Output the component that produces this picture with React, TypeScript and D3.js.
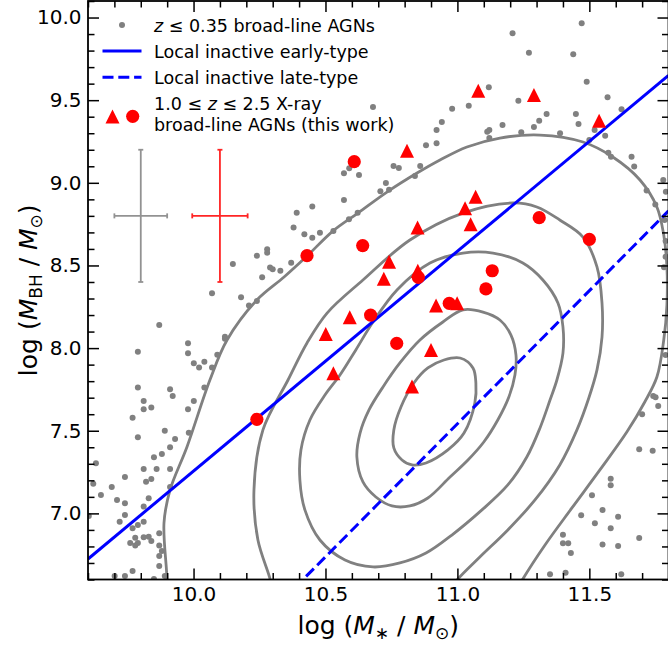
import React, { useEffect, useRef } from 'react';
import * as d3 from 'd3';

type Pt = [number, number];

// z <= 0.35 broad-line AGNs: [log M*, log MBH]
const localAGN: Pt[] = [
  [9.789, 7.761], [9.911, 7.751], [9.921, 7.71], [10.041, 7.761], [9.811, 7.68], [9.811, 7.63],
  [9.84, 7.64], [10.001, 7.68], [9.979, 7.63], [9.769, 7.579], [9.891, 7.5], [9.789, 7.461],
  [9.982, 7.488], [9.93, 7.45], [9.911, 7.4], [9.88, 7.36], [9.85, 7.34], [9.63, 7.303],
  [9.811, 7.269], [9.86, 7.269], [9.911, 7.269], [9.74, 7.22], [9.84, 7.208], [9.82, 7.192],
  [9.62, 7.18], [9.69, 7.16], [9.911, 7.16], [9.649, 7.111], [9.83, 7.091], [9.71, 7.081],
  [9.74, 7.061], [9.811, 7.041], [9.603, 6.984], [9.74, 6.99], [9.72, 6.95], [9.811, 6.95],
  [9.789, 6.93], [9.769, 6.91], [9.87, 6.88], [9.779, 6.853], [9.811, 6.855], [9.83, 6.859],
  [9.84, 6.833], [9.76, 6.821], [9.789, 6.821], [9.779, 6.805], [9.87, 6.805], [9.88, 6.773],
  [9.87, 6.742], [9.87, 6.682], [9.769, 6.652], [9.701, 6.621], [9.74, 6.621], [9.85, 6.603],
  [9.891, 6.621],
  [10.379, 8.729], [10.42, 8.689], [10.24, 8.559], [10.279, 8.598], [10.279, 8.577], [10.149, 8.509],
  [10.29, 8.487], [10.3, 8.477], [10.329, 8.468], [10.37, 8.517], [10.26, 8.428], [10.07, 8.332],
  [10.18, 8.307], [10.21, 8.257], [10.24, 8.285], [9.87, 8.14], [10.119, 8.069], [10.119, 8.057],
  [9.979, 8.029], [9.789, 7.978], [9.979, 7.969], [10.09, 7.96], [10.001, 7.908], [10.041, 7.918],
  [10.021, 7.882], [10.07, 7.882],
  [10.59, 9.088], [10.57, 9.058], [10.627, 9.047], [10.57, 8.896], [10.391, 8.819], [10.45, 8.856],
  [10.622, 8.819], [10.589, 8.779], [10.45, 8.668], [10.479, 8.698], [10.53, 8.709],
  [10.68, 9.459], [10.98, 9.448], [11.043, 9.467], [11.119, 9.578], [10.941, 9.368], [10.921, 9.32],
  [10.881, 9.227], [10.921, 9.239], [11.113, 9.309], [11.121, 9.32], [11.121, 9.271], [10.758, 9.102],
  [10.778, 9.09], [10.859, 9.102], [10.839, 9.041], [10.729, 8.999], [10.708, 8.949], [10.741, 8.958],
  [11.49, 9.612], [11.569, 9.517], [11.231, 9.497], [11.338, 9.416], [11.31, 9.376], [11.29, 9.338],
  [11.171, 9.35], [11.242, 9.306], [11.389, 9.3], [11.449, 9.416], [11.459, 9.356], [11.52, 9.32],
  [11.56, 9.285], [11.622, 9.445], [11.572, 9.182], [11.582, 9.158], [11.66, 9.158], [11.67, 9.098],
  [11.78, 9.017], [11.717, 8.954], [11.75, 8.869], [11.79, 8.946], [11.471, 9.965], [11.209, 9.905],
  [11.271, 9.787], [11.439, 9.778], [11.5, 9.259], [11.785, 8.775],
  [11.789, 8.648], [11.789, 8.553], [11.783, 8.489], [11.789, 7.958],
  [11.742, 7.71], [11.751, 7.703], [11.761, 7.65], [11.7, 7.6], [11.689, 7.388], [11.74, 7.379],
  [11.581, 7.21], [11.581, 7.17], [11.51, 7.11], [11.469, 6.989], [11.55, 7.021], [11.609, 6.98],
  [11.521, 6.94], [11.581, 6.91], [11.4, 6.87], [11.4, 6.819], [11.42, 6.819], [11.43, 6.761],
  [11.55, 6.811], [11.609, 6.803], [11.689, 6.851], [11.351, 6.632], [11.41, 6.641], [11.621, 6.632],
];

// 1.0 <= z <= 2.5 X-ray broad-line AGNs (this work)
const agnTriangles: Pt[] = [
  [11.079, 9.557], [11.29, 9.531], [11.537, 9.376], [10.809, 9.194], [11.069, 8.916], [11.029, 8.846],
  [11.05, 8.749], [10.849, 8.729], [10.741, 8.523], [10.721, 8.42], [10.85, 8.468], [10.592, 8.187],
  [10.501, 8.085], [10.919, 8.257], [10.999, 8.271], [10.9, 7.989], [10.53, 7.848], [10.828, 7.767],
];
const agnCircles: Pt[] = [
  [10.609, 9.128], [10.43, 8.559], [10.641, 8.62], [10.671, 8.2], [10.77, 8.029], [10.969, 8.271],
  [11.31, 8.789], [11.5, 8.658], [11.132, 8.468], [11.108, 8.358], [10.852, 8.428], [10.24, 7.569],
];

// density contours of local inactive galaxies
const contour1: Pt[] = [
  [10.949, 7.928], [11.01, 7.94], [11.059, 7.88], [11.07, 7.789], [11.066, 7.668], [11.025, 7.486],
  [10.964, 7.384], [10.881, 7.305], [10.828, 7.293], [10.79, 7.323], [10.759, 7.396], [10.759, 7.505],
  [10.786, 7.644], [10.835, 7.789], [10.888, 7.88],
];
const contour2: Pt[] = [
  [11.021, 8.231], [11.097, 8.218], [11.161, 8.17], [11.203, 8.079], [11.222, 7.958], [11.218, 7.837],
  [11.195, 7.704], [11.153, 7.565], [11.1, 7.432], [11.04, 7.323], [10.972, 7.22], [10.888, 7.093],
  [10.82, 7.045], [10.752, 7.045], [10.691, 7.099], [10.642, 7.19], [10.619, 7.341], [10.631, 7.486],
  [10.665, 7.626], [10.718, 7.765], [10.782, 7.91], [10.858, 8.049], [10.945, 8.158],
];
const contour3: Pt[] = [
  [11.021, 8.575], [11.135, 8.575], [11.248, 8.515], [11.324, 8.412], [11.381, 8.273], [11.4, 8.128],
  [11.4, 7.97], [11.377, 7.807], [11.351, 7.686], [11.313, 7.517], [11.263, 7.341], [11.191, 7.172],
  [11.093, 7.021], [10.979, 6.869], [10.881, 6.76], [10.782, 6.7], [10.68, 6.676], [10.574, 6.718],
  [10.479, 6.839], [10.422, 7.021], [10.403, 7.202], [10.407, 7.384], [10.441, 7.565], [10.498, 7.716],
  [10.555, 7.837], [10.615, 7.989], [10.68, 8.158], [10.771, 8.352], [10.896, 8.515],
];
const contour4: Pt[] = [
  [10.297, 6.537], [10.29, 6.603], [10.244, 6.839], [10.229, 7.142], [10.263, 7.505], [10.358, 7.807],
  [10.43, 8.031], [10.506, 8.212], [10.642, 8.412], [10.82, 8.654], [11.021, 8.817], [11.21, 8.878],
  [11.301, 8.854], [11.388, 8.775], [11.476, 8.672], [11.529, 8.491], [11.548, 8.273], [11.548, 8.067],
  [11.529, 7.868], [11.498, 7.698], [11.453, 7.505], [11.388, 7.293], [11.294, 7.081], [11.191, 6.9],
  [11.085, 6.736], [11.002, 6.603], [10.972, 6.537],
];
const contour5: Pt[] = [
  [9.896, 6.537], [9.899, 6.603], [9.888, 6.942], [9.911, 7.142], [9.975, 7.402], [10.062, 7.807],
  [10.127, 8.049], [10.24, 8.291], [10.343, 8.43], [10.43, 8.557], [10.528, 8.708], [10.623, 8.817],
  [10.733, 8.944], [10.847, 9.059], [10.934, 9.138], [11.036, 9.217], [11.161, 9.271], [11.313, 9.289],
  [11.476, 9.247], [11.589, 9.156], [11.692, 9.017], [11.756, 8.854], [11.782, 8.684], [11.794, 8.491],
  [11.794, 8.261], [11.782, 8.049], [11.756, 7.825], [11.71, 7.674], [11.642, 7.492], [11.54, 7.263],
  [11.434, 7.033], [11.332, 6.809], [11.248, 6.603], [11.225, 6.537],
];

// local inactive scaling relations (end points)
const earlyType: Pt[] = [[9.6, 6.724], [11.8, 9.65]];
const lateType: Pt[] = [[10.3, 6.415], [11.8, 8.83]];

// typical uncertainties
const errLocal = { x: 9.8, y: 8.8, dx: 0.1, dy: 0.4 };
const errThisWork = { x: 10.1, y: 8.8, dx: 0.105, dy: 0.4 };

const xMajor = [10.0, 10.5, 11.0, 11.5];
const yMajor = [7.0, 7.5, 8.0, 8.5, 9.0, 9.5, 10.0];

const GRAY = '#808080';
const RED = '#ff0000';
const BLUE = '#0000ff';

const App = () => {
  const ref = useRef<SVGSVGElement>(null);

  useEffect(() => {
    document.body.style.margin = '0';
    const svg = d3.select(ref.current);
    svg.selectAll('*').remove();

    const left = 88, right = 668.5, top = 1, bottom = 579.5;
    const x = d3.scaleLinear().domain([9.6, 11.8]).range([left, right]);
    const y = d3.scaleLinear().domain([6.6, 10.1]).range([bottom, top]);
    const font = 'DejaVu Sans, sans-serif';

    const xMinor = d3.range(96, 119).map(d => d / 10).filter(v => !xMajor.some(m => Math.abs(m - v) < 1e-6));
    const yMinor = d3.range(66, 102).map(d => d / 10).filter(v => !yMajor.some(m => Math.abs(m - v) < 1e-6));

    svg.append('defs').append('clipPath').attr('id', 'plot-clip')
      .append('rect').attr('x', left).attr('y', top).attr('width', right - left).attr('height', bottom - top);

    const plot = svg.append('g').attr('clip-path', 'url(#plot-clip)');

    // local AGNs
    plot.selectAll('.local').data(localAGN).enter().append('circle')
      .attr('cx', d => x(d[0])).attr('cy', d => y(d[1])).attr('r', 3).attr('fill', GRAY);

    // contours
    const closed = d3.line<Pt>().x(d => x(d[0])).y(d => y(d[1])).curve(d3.curveCatmullRomClosed.alpha(0.5));
    const open = d3.line<Pt>().x(d => x(d[0])).y(d => y(d[1])).curve(d3.curveCatmullRom.alpha(0.5));
    [contour1, contour2, contour3].forEach(c => {
      plot.append('path').attr('d', closed(c)).attr('fill', 'none').attr('stroke', GRAY).attr('stroke-width', 2.8);
    });
    [contour4, contour5].forEach(c => {
      plot.append('path').attr('d', open(c)).attr('fill', 'none').attr('stroke', GRAY).attr('stroke-width', 2.8);
    });

    // relations
    const straight = d3.line<Pt>().x(d => x(d[0])).y(d => y(d[1]));
    plot.append('path').attr('d', straight(earlyType)).attr('stroke', BLUE).attr('stroke-width', 3).attr('fill', 'none');
    plot.append('path').attr('d', straight(lateType)).attr('stroke', BLUE).attr('stroke-width', 3)
      .attr('stroke-dasharray', '11,4.8').attr('fill', 'none');

    // error bars
    const errBar = (e: typeof errLocal, color: string) => {
      const g = svg.append('g').attr('stroke', color).attr('stroke-width', 1.8).attr('opacity', 0.85);
      const cx = x(e.x), cy = y(e.y);
      const x0 = x(e.x - e.dx), x1 = x(e.x + e.dx), y0 = y(e.y - e.dy), y1 = y(e.y + e.dy);
      g.append('line').attr('x1', x0).attr('x2', x1).attr('y1', cy).attr('y2', cy);
      g.append('line').attr('x1', cx).attr('x2', cx).attr('y1', y0).attr('y2', y1);
      g.append('line').attr('x1', x0).attr('x2', x0).attr('y1', cy - 2.5).attr('y2', cy + 2.5);
      g.append('line').attr('x1', x1).attr('x2', x1).attr('y1', cy - 2.5).attr('y2', cy + 2.5);
      g.append('line').attr('x1', cx - 2.5).attr('x2', cx + 2.5).attr('y1', y0).attr('y2', y0);
      g.append('line').attr('x1', cx - 2.5).attr('x2', cx + 2.5).attr('y1', y1).attr('y2', y1);
    };
    errBar(errLocal, GRAY);
    errBar(errThisWork, RED);

    // this work
    const tri = (cx: number, cy: number, s = 14) =>
      `M${cx},${cy - s / 2}L${cx - s / 2},${cy + s / 2}L${cx + s / 2},${cy + s / 2}Z`;
    plot.selectAll('.tri').data(agnTriangles).enter().append('path')
      .attr('d', d => tri(x(d[0]), y(d[1]))).attr('fill', RED);
    plot.selectAll('.circ').data(agnCircles).enter().append('circle')
      .attr('cx', d => x(d[0])).attr('cy', d => y(d[1])).attr('r', 6.6).attr('fill', RED);

    // axes
    const style = (g: any, labels: boolean) => {
      g.select('.domain').remove();
      g.selectAll('line').attr('stroke', '#000').attr('stroke-width', 1.5);
      if (labels) g.selectAll('text').attr('font-family', font).attr('font-size', 20).attr('fill', '#000');
    };
    const fmt = d3.format('.1f');
    svg.append('g').attr('transform', `translate(0,${bottom})`)
      .call(d3.axisBottom(x).tickValues(xMajor).tickSize(-11).tickPadding(7).tickFormat(d => fmt(d as number)))
      .call((g: any) => style(g, true));
    svg.append('g').attr('transform', `translate(0,${bottom})`)
      .call(d3.axisBottom(x).tickValues(xMinor).tickSize(-6.5).tickFormat(() => ''))
      .call((g: any) => style(g, false));
    svg.append('g').attr('transform', `translate(0,${top})`)
      .call(d3.axisTop(x).tickValues(xMajor).tickSize(-11).tickFormat(() => ''))
      .call((g: any) => style(g, false));
    svg.append('g').attr('transform', `translate(0,${top})`)
      .call(d3.axisTop(x).tickValues(xMinor).tickSize(-6.5).tickFormat(() => ''))
      .call((g: any) => style(g, false));
    svg.append('g').attr('transform', `translate(${left},0)`)
      .call(d3.axisLeft(y).tickValues(yMajor).tickSize(-11).tickPadding(6.5).tickFormat(d => fmt(d as number)))
      .call((g: any) => style(g, true));
    svg.append('g').attr('transform', `translate(${left},0)`)
      .call(d3.axisLeft(y).tickValues(yMinor).tickSize(-6.5).tickFormat(() => ''))
      .call((g: any) => style(g, false));
    svg.append('g').attr('transform', `translate(${right},0)`)
      .call(d3.axisRight(y).tickValues(yMajor).tickSize(-11).tickFormat(() => ''))
      .call((g: any) => style(g, false));
    svg.append('g').attr('transform', `translate(${right},0)`)
      .call(d3.axisRight(y).tickValues(yMinor).tickSize(-6.5).tickFormat(() => ''))
      .call((g: any) => style(g, false));

    svg.append('rect').attr('x', left).attr('y', top).attr('width', right - left).attr('height', bottom - top)
      .attr('fill', 'none').attr('stroke', '#000').attr('stroke-width', 1.8);

    // axis labels
    const xl = svg.append('text').attr('x', (left + right) / 2).attr('y', 634).attr('text-anchor', 'middle')
      .attr('font-family', font).attr('font-size', 25).attr('fill', '#000');
    xl.append('tspan').text('log (');
    xl.append('tspan').attr('font-style', 'italic').text('M');
    xl.append('tspan').attr('font-size', 17).attr('dy', 5).text('∗');
    xl.append('tspan').attr('dy', -5).text(' / ');
    xl.append('tspan').attr('font-style', 'italic').text('M');
    xl.append('tspan').attr('font-size', 17).attr('dy', 5).text('⊙');
    xl.append('tspan').attr('dy', -5).text(')');

    const yl = svg.append('text').attr('transform', `translate(37,${(top + bottom) / 2}) rotate(-90)`)
      .attr('text-anchor', 'middle').attr('font-family', font).attr('font-size', 25).attr('fill', '#000');
    yl.append('tspan').text('log (');
    yl.append('tspan').attr('font-style', 'italic').text('M');
    yl.append('tspan').attr('font-size', 17).attr('dy', 5).text('BH');
    yl.append('tspan').attr('dy', -5).text(' / ');
    yl.append('tspan').attr('font-style', 'italic').text('M');
    yl.append('tspan').attr('font-size', 17).attr('dy', 5).text('⊙');
    yl.append('tspan').attr('dy', -5).text(')');

    // legend
    const lg = svg.append('g').attr('font-family', font).attr('font-size', 17.5).attr('fill', '#000');
    lg.append('circle').attr('cx', 122).attr('cy', 25).attr('r', 3).attr('fill', GRAY);
    const t1 = lg.append('text').attr('x', 154).attr('y', 31.5);
    t1.append('tspan').attr('font-style', 'italic').text('z');
    t1.append('tspan').text(' ≤ 0.35 broad-line AGNs');
    lg.append('line').attr('x1', 102.5).attr('x2', 141.5).attr('y1', 51).attr('y2', 51)
      .attr('stroke', BLUE).attr('stroke-width', 3);
    lg.append('text').attr('x', 154).attr('y', 57.5).text('Local inactive early-type');
    lg.append('line').attr('x1', 102.5).attr('x2', 141.5).attr('y1', 77.3).attr('y2', 77.3)
      .attr('stroke', BLUE).attr('stroke-width', 3).attr('stroke-dasharray', '11,4.8');
    lg.append('text').attr('x', 154).attr('y', 83.5).text('Local inactive late-type');
    lg.append('path').attr('d', tri(112.5, 116.5)).attr('fill', RED);
    lg.append('circle').attr('cx', 132.7).attr('cy', 116.3).attr('r', 6.6).attr('fill', RED);
    const t4 = lg.append('text').attr('x', 154).attr('y', 109.5);
    t4.append('tspan').text('1.0 ≤ ');
    t4.append('tspan').attr('font-style', 'italic').text('z');
    t4.append('tspan').text(' ≤ 2.5 X-ray');
    lg.append('text').attr('x', 154).attr('y', 131).text('broad-line AGNs (this work)');
  }, []);

  return (
    <svg ref={ref} width={668} height={645} style={{ display: 'block', background: '#fff' }} />
  );
};

export default App;
